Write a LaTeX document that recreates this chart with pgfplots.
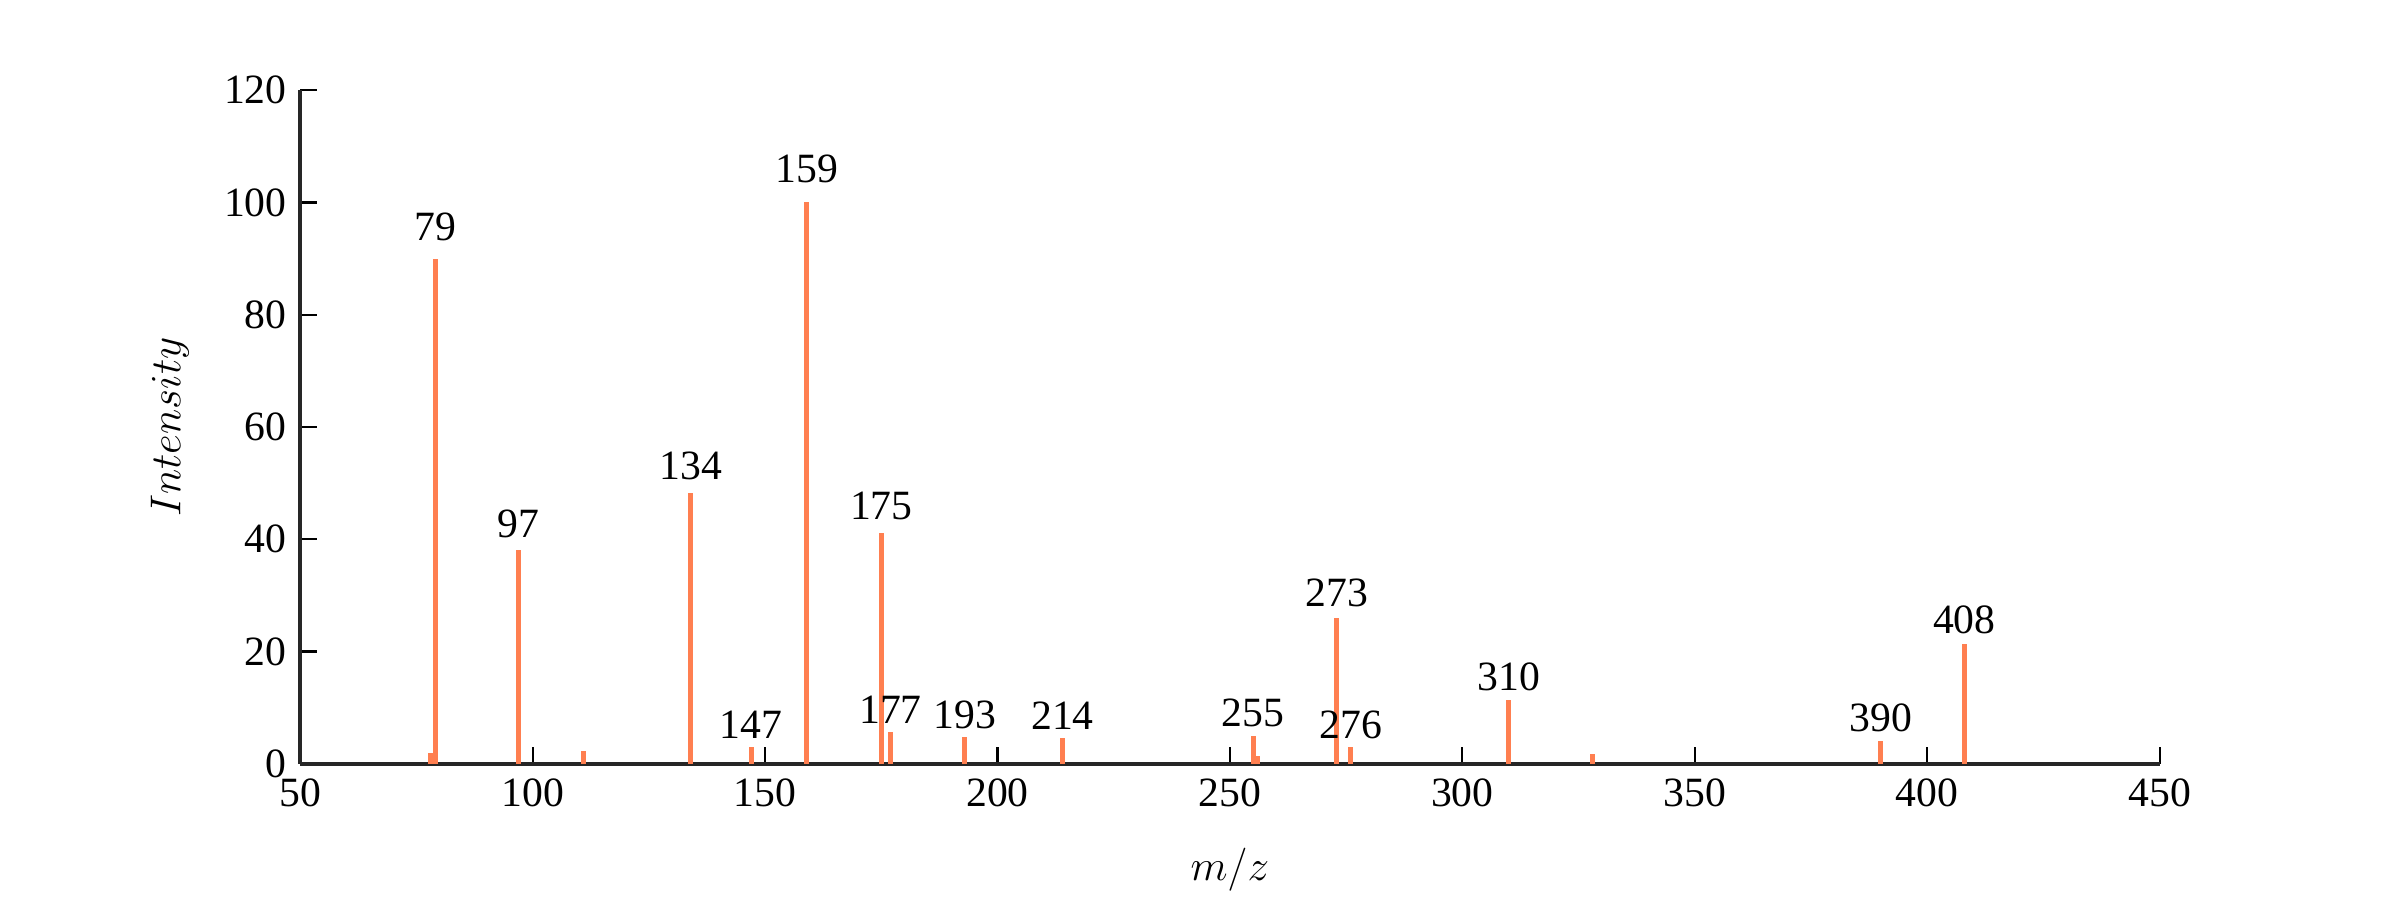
\documentclass[border=0pt]{standalone}
\usepackage{pgfplots}
\pgfplotsset{compat=1.18}
\usepackage{fontspec}
\setmainfont{Liberation Serif}
\definecolor{barc}{RGB}{255,127,80}
\definecolor{axc}{RGB}{38,38,38}
\begin{document}
\begin{tikzpicture}
\begin{axis}[
  scale only axis, width=892.5pt, height=323.3pt,
  xmin=50, xmax=450, ymin=0, ymax=120,
  axis lines*=left,
  axis line style={axc, line width=2pt},
  tick style={black, line width=1pt},
  major tick length=8pt, tick align=inside,
  xtick={50,100,...,450}, ytick={0,20,...,120},
  /pgf/number format/assume math mode=true,
  ticklabel style={font=\fontsize{20}{24}\selectfont},
  xticklabel style={yshift=-3.5pt},
  yticklabel style={xshift=-3pt},
  xlabel={$m/z$}, ylabel={$Intensity$},
  xlabel style={at={(axis description cs:0.5,-0.1577)}, anchor=center, font=\fontsize{22}{26}\selectfont},
  ylabel style={at={(axis description cs:-0.0701,0.5)}, anchor=center, font=\fontsize{22}{26}\selectfont},
  clip=false,
]
\addplot[ycomb, barc, line width=2.4pt, mark=none,
  nodes near coords, point meta=explicit symbolic,
  visualization depends on={rawy \as \ry},
  every node near coord/.append style={black, anchor=base, inner sep=0pt,
    yshift={(4+0.054*\ry)*1pt}, font=\fontsize{20}{24}\selectfont}]
  table[meta=label] {
x y label
79 90 79
97 38 97
134 48.2 134
147 3 147
159 100 159
175 41.2 175
177 5.6 177
193 4.7 193
214 4.5 214
255 5.0 255
273 26 273
276 3 276
310 11.3 310
390 4.1 390
408 21.3 408
};
\addplot[ycomb, barc, line width=2.4pt, mark=none] coordinates {
(78,2.0) (111,2.2) (256,1.3) (328,1.8)
};
\end{axis}
\pgfresetboundingbox
\path (-144.1pt,-65.4pt) rectangle (1007.9pt,366.6pt);
\end{tikzpicture}
\end{document}
